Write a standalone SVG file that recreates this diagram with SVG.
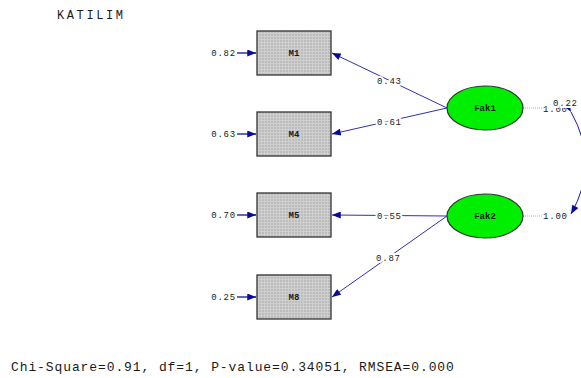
<svg xmlns="http://www.w3.org/2000/svg" width="581" height="378" viewBox="0 0 581 378">
<style>
.t{font-family:"Liberation Mono","Courier New",monospace;fill:#1a1a1a}
.lbl{font-size:9px;letter-spacing:0.8px}
.onl{paint-order:stroke;stroke:#fff;stroke-width:4px}
.box{fill:url(#dots);stroke:#333;stroke-width:1.3}
.ell{fill:#00ee00;stroke:#333;stroke-width:1.2}
.path{stroke:#3030b0;stroke-width:1;fill:none}
.err{stroke:#1010a0;stroke-width:1.3;fill:none}
.var{stroke:#b0b0b0;stroke-width:1;stroke-dasharray:1 1;fill:none}
.nm{font-size:9px;font-weight:bold;text-anchor:middle}
</style>
<defs>
<pattern id="dots" width="3" height="3" patternUnits="userSpaceOnUse">
<rect width="3" height="3" fill="#bcbcbc"/>
<rect width="1" height="3" fill="#cfcfcf"/>
<rect width="3" height="1" fill="#cfcfcf"/>
</pattern>
<marker id="ah" viewBox="0 0 10 8" refX="10" refY="4" markerWidth="10" markerHeight="7" markerUnits="userSpaceOnUse" orient="auto">
<path d="M0,0 L10,4 L0,8 Z" fill="#0a0a9a"/>
</marker>
</defs>
<rect width="581" height="378" fill="#fff"/>
<text class="t" x="57" y="19" font-size="12" letter-spacing="2.6">KATILIM</text>
<g id="connectors">
<line class="path" x1="447" y1="108" x2="332" y2="53" marker-end="url(#ah)"/>
<line class="path" x1="447" y1="108" x2="332" y2="134" marker-end="url(#ah)"/>
<line class="path" x1="447" y1="216" x2="332" y2="215" marker-end="url(#ah)"/>
<line class="path" x1="447" y1="216" x2="332" y2="297" marker-end="url(#ah)"/>
<line class="err" x1="237" y1="53" x2="256" y2="53" marker-end="url(#ah)"/>
<line class="err" x1="237" y1="134" x2="256" y2="134" marker-end="url(#ah)"/>
<line class="err" x1="237" y1="215" x2="256" y2="215" marker-end="url(#ah)"/>
<line class="err" x1="237" y1="297" x2="256" y2="297" marker-end="url(#ah)"/>
<line class="var" x1="523" y1="108" x2="543" y2="108"/>
<line class="var" x1="523" y1="216" x2="543" y2="216"/>
<path class="path" d="M571,112 Q600,163 571,214" marker-start="url(#ah)" marker-end="url(#ah)" style="stroke:#1515a5"/>
<text class="t lbl onl" x="377" y="84">0.43</text>
<text class="t lbl onl" x="377" y="125">0.61</text>
<text class="t lbl onl" x="377" y="219">0.55</text>
<text class="t lbl onl" x="376" y="261">0.87</text>
<text class="t lbl" x="236" y="56" text-anchor="end">0.82</text>
<text class="t lbl" x="236" y="137" text-anchor="end">0.63</text>
<text class="t lbl" x="236" y="218" text-anchor="end">0.70</text>
<text class="t lbl" x="236" y="300" text-anchor="end">0.25</text>
<text class="t lbl" x="543" y="112">1.00</text>
<text class="t lbl onl" x="553" y="106">0.22</text>
<text class="t lbl" x="543" y="219">1.00</text>
</g>
<g id="M1"><rect class="box" x="257" y="31" width="74" height="44"/><text class="t nm" x="294" y="56">M1</text></g>
<g id="M4"><rect class="box" x="257" y="112" width="74" height="44"/><text class="t nm" x="294" y="137">M4</text></g>
<g id="M5"><rect class="box" x="257" y="193" width="74" height="44"/><text class="t nm" x="294" y="218">M5</text></g>
<g id="M8"><rect class="box" x="257" y="275" width="74" height="44"/><text class="t nm" x="294" y="300">M8</text></g>
<g id="Fak1"><ellipse class="ell" cx="485" cy="108" rx="38" ry="22"/><text class="t nm" x="485" y="111">Fak1</text></g>
<g id="Fak2"><ellipse class="ell" cx="485" cy="216" rx="38" ry="22"/><text class="t nm" x="485" y="219">Fak2</text></g>
<text class="t" x="11" y="371" font-size="13" letter-spacing="0.9">Chi-Square=0.91, df=1, P-value=0.34051, RMSEA=0.000</text>
</svg>
